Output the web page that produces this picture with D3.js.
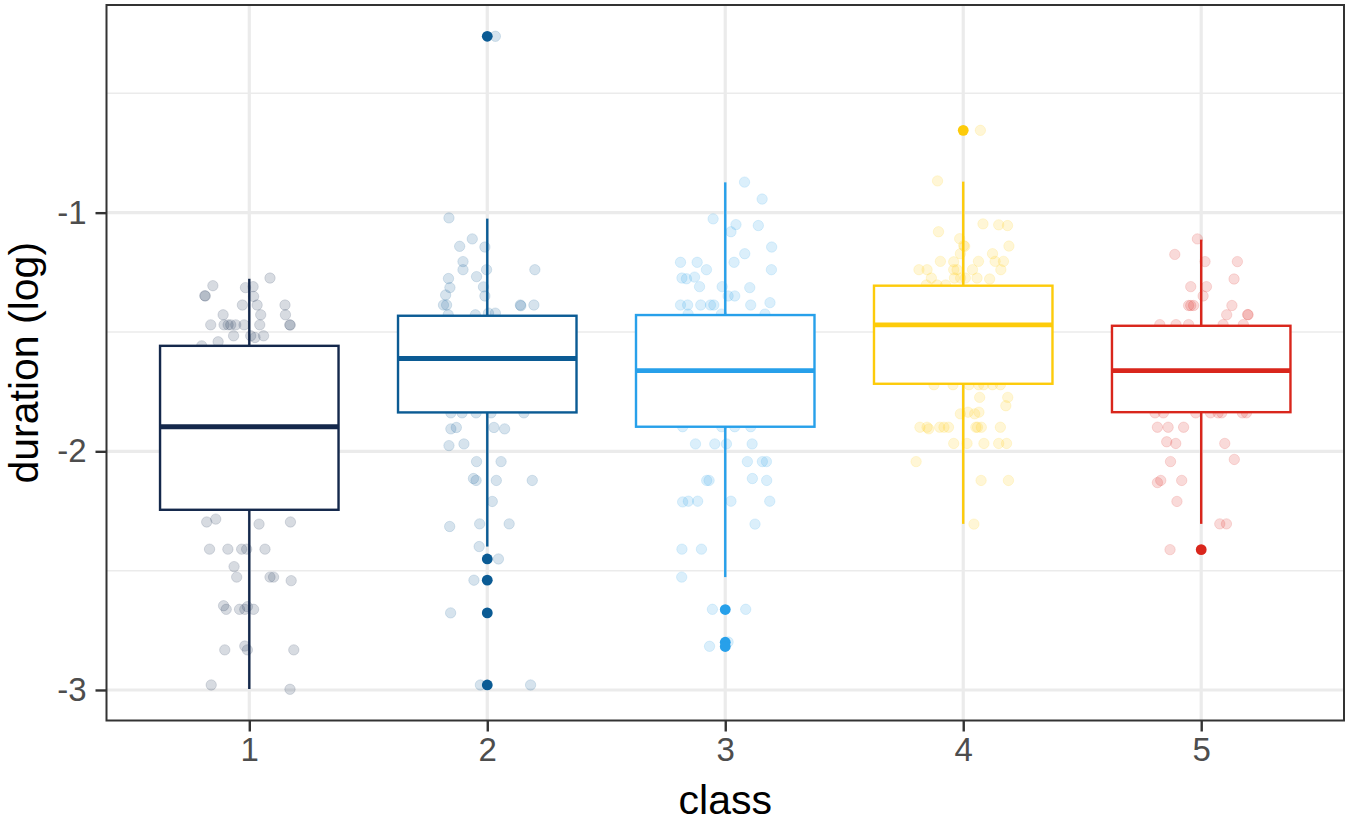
<!DOCTYPE html>
<html>
<head>
<meta charset="utf-8">
<script src="https://cdn.jsdelivr.net/npm/d3@7"></script>
<style>
  html, body { margin: 0; padding: 0; background: #fff; }
  svg { display: block; font-family: 'Liberation Sans', Arial, Helvetica, sans-serif; }
</style>
</head>
<body>
<svg id="chart" width="1350" height="822"></svg>
<script>
// classes and their colours
const classes = ['1', '2', '3', '4', '5'];
const classColors = ['#14284b', '#0b5b94', '#27a0ea', '#fdcb0a', '#d9261c'];

// box statistics per class (log duration)
const whiskerLow = [-2.996, -2.399, -2.527, -2.304, -2.304];
const q1 = [-2.245, -1.837, -1.897, -1.717, -1.836];
const medians = [-1.897, -1.611, -1.662, -1.470, -1.662];
const q3 = [-1.558, -1.432, -1.429, -1.306, -1.474];
const whiskerHigh = [-1.277, -1.025, -0.873, -0.870, -1.113];

// outliers per class
const outliers = [
  [],
  [-0.261, -2.451, -2.540, -2.677, -2.979],
  [-2.663, -2.800, -2.818],
  [-0.655],
  [-2.412]
];

// jittered observations: [offset from class centre (class units), value]
const jitter1 = [
  [0.087, -1.274], [-0.153, -1.306], [-0.016, -1.314], [0.016, -1.310], [-0.187, -1.348], [-0.185, -1.349],
  [0.018, -1.351], [-0.029, -1.387], [0.033, -1.387], [0.150, -1.387], [-0.110, -1.428], [0.048, -1.428],
  [0.152, -1.428], [-0.162, -1.470], [-0.106, -1.470], [-0.089, -1.470], [-0.078, -1.470], [-0.057, -1.470],
  [-0.022, -1.470], [0.044, -1.470], [0.170, -1.470], [0.172, -1.471], [-0.066, -1.516], [0.006, -1.516],
  [0.024, -1.523], [0.060, -1.516], [-0.131, -1.541], [-0.200, -1.558],
  [-0.12, -1.65], [0.05, -1.72], [0.14, -1.80], [-0.08, -1.93], [0.10, -2.02], [-0.15, -2.10], [0.02, -2.18],
  [-0.179, -2.296], [-0.141, -2.284], [0.041, -2.305], [0.173, -2.296], [-0.167, -2.410], [-0.090, -2.410],
  [-0.032, -2.410], [-0.011, -2.410], [0.066, -2.410], [-0.064, -2.483], [-0.053, -2.527], [0.087, -2.527],
  [0.102, -2.527], [0.176, -2.542], [-0.108, -2.647], [-0.097, -2.662], [-0.041, -2.662], [-0.019, -2.662],
  [-0.008, -2.651], [0.018, -2.662], [-0.103, -2.832], [-0.019, -2.816], [-0.008, -2.832], [0.187, -2.832],
  [-0.160, -2.979], [0.171, -2.997]
];
const jitter2 = [
  [0.034, -0.261], [-0.161, -1.022], [-0.063, -1.110], [-0.116, -1.141], [-0.010, -1.144], [-0.102, -1.205],
  [-0.102, -1.239], [-0.003, -1.239], [0.200, -1.239], [-0.163, -1.276], [-0.045, -1.268], [-0.157, -1.314],
  [-0.016, -1.311], [-0.175, -1.345], [-0.010, -1.349], [-0.184, -1.387], [-0.171, -1.387], [0.139, -1.387],
  [0.141, -1.390], [0.196, -1.387], [-0.164, -1.428], [-0.050, -1.428], [0.005, -1.421], [0.034, -1.421],
  [-0.10, -1.50], [0.08, -1.56], [-0.02, -1.66], [0.12, -1.72], [-0.14, -1.78],
  [-0.153, -1.839], [-0.106, -1.839], [-0.047, -1.839], [0.016, -1.839], [0.154, -1.839], [-0.153, -1.906],
  [-0.130, -1.900], [0.028, -1.900], [0.073, -1.906], [-0.161, -1.976], [-0.098, -1.969], [-0.045, -2.043],
  [0.058, -2.043], [-0.058, -2.114], [-0.047, -2.122], [0.038, -2.122], [0.189, -2.122], [0.021, -2.210],
  [-0.158, -2.315], [-0.032, -2.304], [0.092, -2.304], [-0.034, -2.399], [0.047, -2.451], [-0.056, -2.540],
  [-0.154, -2.677], [-0.029, -2.979], [0.182, -2.979]
];
const jitter3 = [
  [0.081, -0.872], [0.155, -0.943], [-0.051, -1.026], [0.045, -1.050], [0.139, -1.054], [0.024, -1.080],
  [0.195, -1.144], [0.082, -1.172], [-0.188, -1.208], [-0.118, -1.208], [0.037, -1.208], [-0.079, -1.239],
  [0.194, -1.239], [-0.182, -1.274], [-0.163, -1.277], [-0.129, -1.270], [-0.108, -1.310], [-0.013, -1.310],
  [0.103, -1.314], [0.012, -1.349], [0.040, -1.349], [-0.188, -1.387], [-0.158, -1.387], [-0.103, -1.387],
  [-0.062, -1.387], [-0.048, -1.387], [0.107, -1.387], [0.188, -1.377], [-0.156, -1.425], [-0.016, -1.425],
  [0.167, -1.425],
  [-0.09, -1.52], [0.11, -1.60], [-0.03, -1.70], [0.15, -1.78], [-0.17, -1.85],
  [-0.179, -1.897], [-0.015, -1.897], [0.040, -1.897], [0.107, -1.897], [-0.125, -1.969], [-0.044, -1.969],
  [0.005, -1.969], [0.113, -1.969], [0.093, -2.043], [0.156, -2.043], [0.173, -2.043], [-0.078, -2.122],
  [-0.068, -2.122], [0.114, -2.114], [0.174, -2.122], [-0.179, -2.212], [-0.155, -2.209], [-0.116, -2.209],
  [0.024, -2.209], [0.187, -2.209], [0.125, -2.305], [-0.182, -2.410], [-0.100, -2.410], [-0.183, -2.527],
  [-0.054, -2.662], [0.086, -2.662], [-0.066, -2.817], [0.012, -2.799]
];
const jitter4 = [
  [0.072, -0.655], [-0.108, -0.867], [0.083, -1.047], [0.149, -1.051], [0.186, -1.054], [-0.104, -1.080],
  [-0.015, -1.109], [0.006, -1.141], [0.002, -1.138], [0.192, -1.140], [-0.012, -1.172], [0.123, -1.172],
  [-0.096, -1.204], [-0.040, -1.206], [0.064, -1.204], [0.134, -1.204], [0.169, -1.204], [-0.186, -1.239],
  [-0.152, -1.239], [-0.040, -1.239], [-0.026, -1.239], [0.039, -1.239], [0.158, -1.239], [-0.134, -1.274],
  [-0.037, -1.274], [-0.011, -1.274], [0.009, -1.274], [0.058, -1.274], [0.111, -1.278], [-0.155, -1.303],
  [-0.110, -1.303], [-0.074, -1.303],
  [0.04, -1.38], [-0.12, -1.45], [0.09, -1.53], [-0.05, -1.62], [0.16, -1.68],
  [-0.123, -1.721], [-0.043, -1.721], [0.024, -1.721], [0.065, -1.721], [0.086, -1.721], [0.123, -1.721],
  [0.156, -1.721], [0.069, -1.774], [0.187, -1.774], [0.179, -1.809], [-0.012, -1.843], [0.020, -1.836],
  [0.048, -1.843], [0.066, -1.836], [-0.182, -1.899], [-0.152, -1.899], [-0.145, -1.906], [-0.099, -1.899],
  [-0.081, -1.899], [-0.062, -1.899], [0.053, -1.899], [0.060, -1.899], [0.076, -1.899], [0.156, -1.899],
  [-0.040, -1.967], [0.016, -1.967], [0.087, -1.967], [0.149, -1.967], [0.182, -1.967], [-0.198, -2.043],
  [0.075, -2.122], [0.190, -2.122], [0.045, -2.305]
];
const jitter5 = [
  [-0.016, -1.110], [-0.111, -1.175], [0.016, -1.205], [0.152, -1.205], [0.138, -1.278], [-0.044, -1.310],
  [0.022, -1.310], [0.008, -1.349], [-0.053, -1.389], [-0.044, -1.389], [-0.032, -1.389], [0.129, -1.389],
  [0.107, -1.428], [0.197, -1.428], [0.195, -1.427], [-0.174, -1.469], [-0.106, -1.469], [-0.053, -1.469],
  [0.092, -1.469], [0.177, -1.469],
  [-0.08, -1.55], [0.12, -1.62], [-0.15, -1.70], [0.03, -1.77],
  [-0.194, -1.839], [-0.159, -1.839], [-0.023, -1.839], [0.039, -1.839], [0.071, -1.839], [0.086, -1.839],
  [0.173, -1.839], [0.190, -1.839], [-0.184, -1.899], [-0.139, -1.899], [-0.074, -1.899], [-0.145, -1.960],
  [-0.107, -1.967], [0.099, -1.967], [-0.129, -2.043], [0.139, -2.034], [-0.184, -2.131], [-0.170, -2.122],
  [-0.082, -2.122], [-0.102, -2.210], [0.078, -2.304], [0.106, -2.304], [-0.131, -2.412]
];
const jitterPoints = [jitter1, jitter2, jitter3, jitter4, jitter5];

const yTicks = [-3, -2, -1];
const yTickLabels = ['-3', '-2', '-1'];
const yMinorTicks = [-2.5, -1.5, -0.5];

const svg = d3.select('#chart');
const panel = { left: 106.5, right: 1344, top: 5, bottom: 720.5 };

const x = d3.scaleLinear().domain([0.4, 5.6]).range([panel.left, panel.right]);
const y = d3.scaleLinear().domain([-3.1279, -0.1299]).range([panel.bottom, panel.top]);
const unit = x(2) - x(1);
const boxHalf = 0.375 * unit;

// grid
const grid = svg.append('g');
grid.selectAll('.minor').data(yMinorTicks).enter().append('line')
  .attr('x1', panel.left).attr('x2', panel.right)
  .attr('y1', (d) => y(d)).attr('y2', (d) => y(d))
  .attr('stroke', '#ebebeb').attr('stroke-width', 1.5);
grid.selectAll('.major').data(yTicks).enter().append('line')
  .attr('x1', panel.left).attr('x2', panel.right)
  .attr('y1', (d) => y(d)).attr('y2', (d) => y(d))
  .attr('stroke', '#ebebeb').attr('stroke-width', 3.2);
grid.selectAll('.vmajor').data(classes).enter().append('line')
  .attr('x1', (d, i) => x(i + 1)).attr('x2', (d, i) => x(i + 1))
  .attr('y1', panel.top).attr('y2', panel.bottom)
  .attr('stroke', '#ebebeb').attr('stroke-width', 3.2);

// jittered points
jitterPoints.forEach((pts, i) => {
  svg.append('g').selectAll('circle').data(pts).enter().append('circle')
    .attr('cx', (d) => x(i + 1 + d[0]))
    .attr('cy', (d) => y(d[1]))
    .attr('r', 5.2)
    .attr('fill', classColors[i]).attr('fill-opacity', 0.17)
    .attr('stroke', classColors[i]).attr('stroke-opacity', 0.14).attr('stroke-width', 1);
});

// boxes
classes.forEach((c, i) => {
  const g = svg.append('g');
  const cx = x(i + 1);
  const col = classColors[i];
  g.append('line').attr('x1', cx).attr('x2', cx).attr('y1', y(q3[i])).attr('y2', y(whiskerHigh[i]))
    .attr('stroke', col).attr('stroke-width', 2.4);
  g.append('line').attr('x1', cx).attr('x2', cx).attr('y1', y(q1[i])).attr('y2', y(whiskerLow[i]))
    .attr('stroke', col).attr('stroke-width', 2.4);
  g.append('rect')
    .attr('x', cx - boxHalf).attr('y', y(q3[i]))
    .attr('width', boxHalf * 2).attr('height', y(q1[i]) - y(q3[i]))
    .attr('fill', '#fff').attr('stroke', col).attr('stroke-width', 2.4);
  g.append('line').attr('x1', cx - boxHalf).attr('x2', cx + boxHalf)
    .attr('y1', y(medians[i])).attr('y2', y(medians[i]))
    .attr('stroke', col).attr('stroke-width', 4.8);
  g.selectAll('.outlier').data(outliers[i]).enter().append('circle')
    .attr('cx', cx).attr('cy', (d) => y(d)).attr('r', 5.4).attr('fill', col);
});

// panel border
svg.append('rect')
  .attr('x', panel.left).attr('y', panel.top)
  .attr('width', panel.right - panel.left).attr('height', panel.bottom - panel.top)
  .attr('fill', 'none').attr('stroke', '#333').attr('stroke-width', 2);

// axes
const yAxis = svg.append('g').attr('transform', `translate(${panel.left},0)`)
  .call(d3.axisLeft(y).tickValues(yTicks).tickFormat((d, i) => yTickLabels[i]).tickSize(11).tickPadding(9));
const xAxis = svg.append('g').attr('transform', `translate(0,${panel.bottom})`)
  .call(d3.axisBottom(x).tickValues([1, 2, 3, 4, 5]).tickFormat((d) => classes[d - 1]).tickSize(11).tickPadding(6));
[xAxis, yAxis].forEach((a) => {
  a.select('.domain').remove();
  a.selectAll('.tick line').attr('stroke', '#333').attr('stroke-width', 2.4);
  a.selectAll('.tick text').attr('fill', '#4d4d4d').style('font-size', '33px')
    .style('font-family', "'Liberation Sans', Arial, sans-serif");
});
xAxis.selectAll('.tick text').attr('dy', '0.71em');

// axis titles
svg.append('text')
  .attr('x', (panel.left + panel.right) / 2).attr('y', 814)
  .attr('text-anchor', 'middle').style('font-size', '41px').attr('fill', '#000')
  .text('class');
svg.append('text')
  .attr('transform', `translate(38,${(panel.top + panel.bottom) / 2}) rotate(-90)`)
  .attr('text-anchor', 'middle').style('font-size', '41px').attr('fill', '#000')
  .text('duration (log)');
</script>
</body>
</html>
